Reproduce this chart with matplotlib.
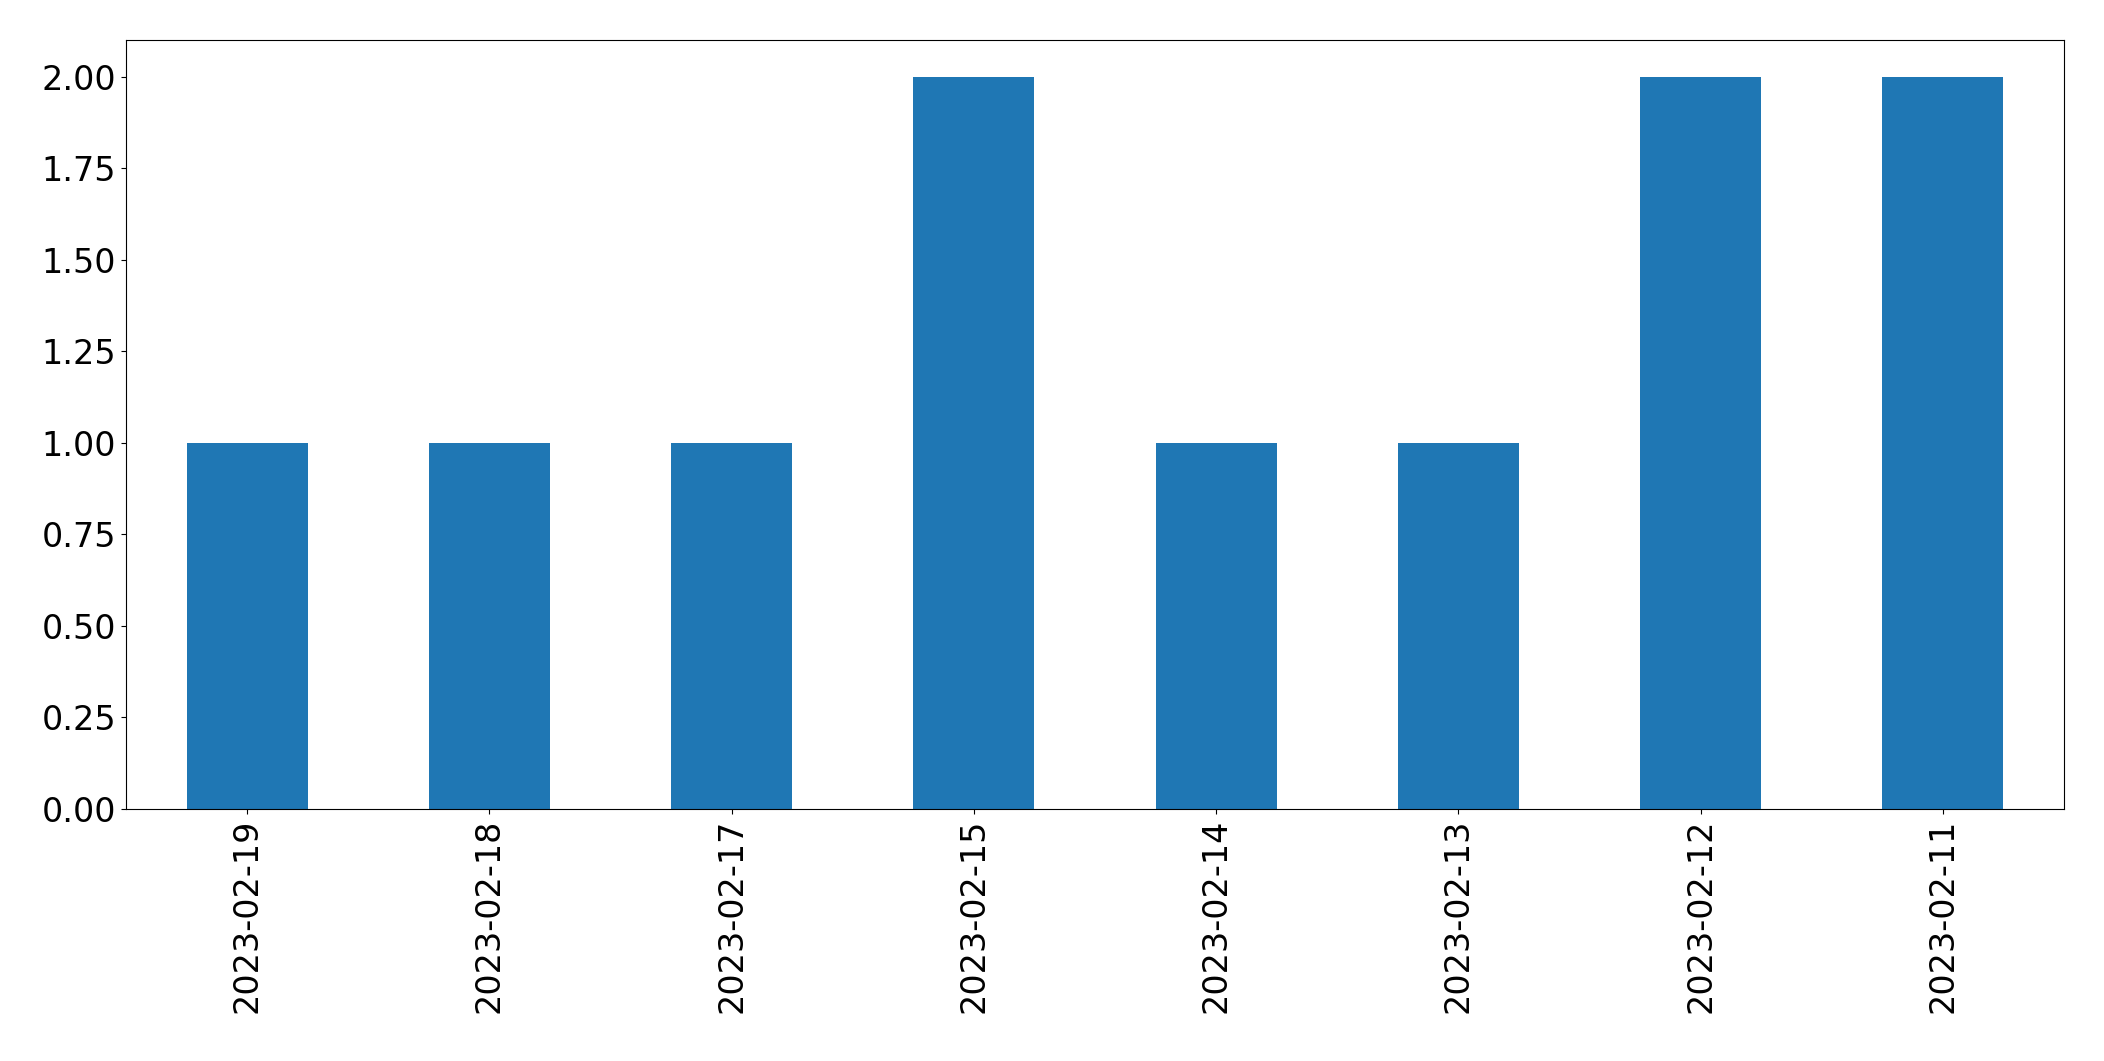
import pandas as pd
import matplotlib
matplotlib.use('Agg')
import matplotlib.pyplot as plt

# counts per day, newest first
dates = ['2023-02-19', '2023-02-18', '2023-02-17', '2023-02-15',
         '2023-02-14', '2023-02-13', '2023-02-12', '2023-02-11']
counts = [1, 1, 1, 2, 1, 1, 2, 2]

s = pd.Series(counts, index=dates)

plt.rc('xtick', labelsize=24)
plt.rc('ytick', labelsize=24)

fig = plt.figure(figsize=(21.04, 10.61), dpi=100)
ax = fig.add_axes([0.0599, 0.2375, 0.9211, 0.7248])
s.plot(kind='bar', ax=ax, color='#1f77b4')

fig.savefig('out.png', dpi=100)
